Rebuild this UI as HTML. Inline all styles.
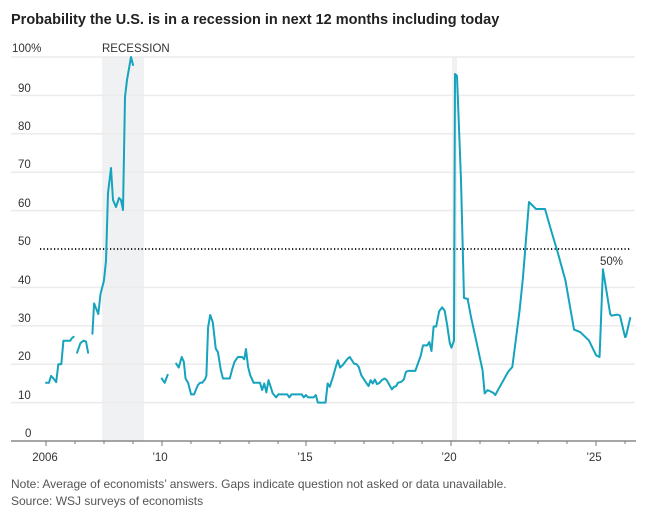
<!DOCTYPE html>
<html><head><meta charset="utf-8"><style>
body{margin:0;background:#fff;}
svg{display:block;font-family:"Liberation Sans",sans-serif;}
</style></head><body>
<svg width="662" height="513" viewBox="0 0 662 513">
<text x="11" y="24" font-size="14.5" font-weight="bold" fill="#222">Probability the U.S. is in a recession in next 12 months including today</text>
<rect x="102" y="57" width="42" height="384" fill="#f0f1f3"/>
<rect x="452" y="57" width="5" height="384" fill="#f0f1f3"/>
<g stroke="#ebebeb" stroke-width="1.5">
<line x1="11" x2="635" y1="57" y2="57"/><line x1="11" x2="635" y1="95.4" y2="95.4"/>
<line x1="11" x2="635" y1="133.8" y2="133.8"/><line x1="11" x2="635" y1="172.2" y2="172.2"/>
<line x1="11" x2="635" y1="210.6" y2="210.6"/>
<line x1="11" x2="635" y1="287.4" y2="287.4"/><line x1="11" x2="635" y1="325.8" y2="325.8"/>
<line x1="11" x2="635" y1="364.2" y2="364.2"/><line x1="11" x2="635" y1="402.6" y2="402.6"/>
</g>
<line x1="40" x2="630" y1="249" y2="249" stroke="#222" stroke-width="2" stroke-dasharray="1.2 2.3"/>
<line x1="11" x2="636" y1="441" y2="441" stroke="#888" stroke-width="1.5"/>
<g stroke="#777" stroke-width="1">
<line x1="46" x2="46" y1="441" y2="446"/><line x1="75" x2="75" y1="441" y2="444"/><line x1="104" x2="104" y1="441" y2="444"/><line x1="133" x2="133" y1="441" y2="444"/>
<line x1="162" x2="162" y1="441" y2="446"/><line x1="191" x2="191" y1="441" y2="444"/><line x1="220" x2="220" y1="441" y2="444"/><line x1="249" x2="249" y1="441" y2="444"/><line x1="278" x2="278" y1="441" y2="444"/>
<line x1="306" x2="306" y1="441" y2="446"/><line x1="335" x2="335" y1="441" y2="444"/><line x1="364" x2="364" y1="441" y2="444"/><line x1="393" x2="393" y1="441" y2="444"/><line x1="422" x2="422" y1="441" y2="444"/>
<line x1="451" x2="451" y1="441" y2="446"/><line x1="480" x2="480" y1="441" y2="444"/><line x1="509" x2="509" y1="441" y2="444"/><line x1="538" x2="538" y1="441" y2="444"/><line x1="567" x2="567" y1="441" y2="444"/>
<line x1="596" x2="596" y1="441" y2="446"/><line x1="625" x2="625" y1="441" y2="444"/>
</g>
<g font-size="11.5" fill="#333">
<text x="12" y="52">100%</text><text x="18" y="92">90</text><text x="18" y="130">80</text><text x="18" y="168">70</text><text x="18" y="207">60</text><text x="18" y="245">50</text><text x="18" y="284">40</text><text x="18" y="322">30</text><text x="18" y="360">20</text><text x="18" y="399">10</text><text x="25" y="437">0</text>
<text x="102" y="52">RECESSION</text>
<text x="600" y="265">50%</text>
<text x="45" y="461" text-anchor="middle">2006</text><text x="160" y="461" text-anchor="middle">’10</text><text x="305" y="461" text-anchor="middle">’15</text><text x="449" y="461" text-anchor="middle">’20</text><text x="594" y="461" text-anchor="middle">’25</text>
</g>
<g font-size="12" fill="#555">
<text x="11" y="488">Note: Average of economists’ answers. Gaps indicate question not asked or data unavailable.</text>
<text x="11" y="505">Source: WSJ surveys of economists</text>
</g>
<g fill="none" stroke="#16a3bd" stroke-width="2" stroke-linejoin="round" stroke-linecap="round">
<g transform="matrix(0.4255,0,0,0.331,-0.4,261)">
<polyline vector-effect="non-scaling-stroke" points="109,368 116,368 121,347 128,357 133,366 138,312 145,312 150,241 166,241 170,233 174,229"/>
<polyline vector-effect="non-scaling-stroke" points="182,277 190,248 197,241 203,243 208,277"/>
<polyline vector-effect="non-scaling-stroke" points="381,355 388,368 395,344"/>
<polyline vector-effect="non-scaling-stroke" points="415,310 421,322 428,290 433,305 437,355 443,368 450,403 457,403 461,390 466,375 471,368 476,368 483,357 486,346 490,200 495,163 501,185 508,265 513,275 520,330 525,355 541,355 546,330 552,305 560,290 570,290 575,297 579,266 584,320 589,345 597,368 612,368 617,390 622,370 627,397 632,360 637,380 642,400 650,412 655,403 676,403 681,412 686,403 710,403 715,412 720,405 725,412 738,412 743,405 748,428 766,428 771,370 776,380 784,348 790,320 795,300 800,322 806,315 812,305 818,295 823,290 828,300 833,310 839,312 844,320 850,345 860,365 867,378 872,360 877,370 882,358 887,372 893,368 898,360 905,355 910,360 915,372 922,388 927,380 932,378 936,368 944,365 950,358 955,335 960,332 977,332 983,310 990,285 995,255 1005,255 1010,245 1015,272 1020,198 1026,198 1033,152 1040,140 1046,150 1052,195 1058,248 1062,262 1068,240"/>
<polyline vector-effect="non-scaling-stroke" points="1100,115 1108,170 1120,240 1135,330 1140,400 1147,390 1160,398 1165,405 1172,388 1182,365 1195,335 1205,320 1215,220 1222,150 1230,50"/>
<polyline vector-effect="non-scaling-stroke" points="1330,60 1350,207 1365,215 1385,240 1402,285 1410,290 1418,25 1435,160 1438,165 1452,162 1458,165 1470,230 1472,228 1482,172"/>
</g>
<polyline points="92.4,333.8 94.1,303.4 98.3,314 100.5,294 103.9,280.9 106,261 108,193 111,168 113,200 116,207 119,198 121,200 123,210 125,97 127,80 131,57 133,65"/>
<polyline points="454,340 455,74 457,76 461,180 464,298 468,299"/>
<polyline points="523,277 529,202 536,209 545,209 551,230 557.6,252 565.6,281"/>
</g>
</svg>
</body></html>
